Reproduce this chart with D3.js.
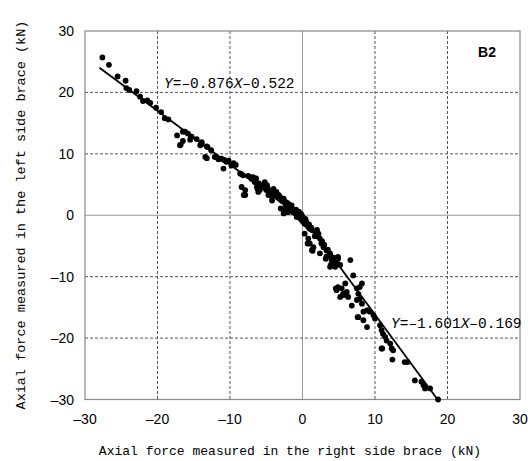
<!DOCTYPE html>
<html><head><meta charset="utf-8">
<script src="https://cdn.jsdelivr.net/npm/d3@7"></script>
<style>body{margin:0;background:#fff}</style>
</head><body>
<svg id="c" width="528" height="461"></svg>
<script>
const xTicks = [-30,-20,-10,0,10,20,30];
const yTicks = [-30,-20,-10,0,10,20,30];
const pointsX = [
-27.6,-26.7,-24.4,-24.3,-23.9,-22.9,-22.4,-22.0,-21.4,-20.2,-19.0,-18.5,-17.3,-16.8,-16.5,-16.2,-15.8,-15.4,-15.5,-14.1,-13.9,-13.1,-13.2,
-16.9,-16.5,-15.3,-13.9,-12.1,-11.9,-11.6,-10.8,-10.5,-10.9,-9.2,-8.6,-8.2,-8.4,-7.9,-7.9,-6.8,-6.6,-6.3,-6.1,-5.6,
-13.2,-13.4,-8.4,-8.1,-7.2,-6.4,-6.2,-5.9,-5.2,-4.9,-5.0,-4.7,-4.5,-4.2,-4.0,-3.6,-3.3,-3.1,-2.9,-2.6,-3.0,-2.4,-2.3,-2.0,-1.7,-1.5,-1.3,-1.0,-2.2,-2.6,
-2.6,-2.0,-1.5,-1.3,-0.8,-0.6,-0.3,-0.1,0.1,0.3,0.6,0.8,1.0,1.3,0.3,0.8,1.0,1.3,1.5,2.0,2.2,2.4,2.6,2.9,2.4,3.3,3.8,4.0,4.2,3.8,4.7,4.9,5.2,6.6,3.3,
3.8,4.5,4.0,4.9,7.0,4.7,4.9,5.4,5.9,5.6,6.1,5.2,6.3,7.5,7.7,7.9,8.2,7.9,7.5,8.2,6.8,8.4,8.9,9.3,8.4,7.7,9.8,10.0,8.9,10.7,
9.1,10.9,11.1,11.4,11.6,12.1,10.9,12.3,12.5,12.4,14.1,15.5,16.4,16.7,16.9,17.6,18.7,
0.7,1.4,3.2,3.9,4.6,5.7,7.6,11.0,14.5,-0.5,-1.8,0.0,0.5,1.7,-3.8,-4.4,-9.8,-11.2,-14.6,-19.5,-21.0,-25.5,
-7.5,-7.0,-6.0,-5.4,-4.8,-4.3,-3.8,-3.4,-2.8,-2.1,-1.6,-1.1,-0.7,-0.4,0.2,0.5,0.9,1.2,1.8,2.1,2.7,3.0,3.5,4.3,-9.5,-10.2,-12.6,-0.9,-0.2,0.4
];
const pointsY = [
25.7,24.5,21.9,20.7,20.4,20.2,19.3,18.6,18.7,17.5,15.8,15.6,13.0,11.5,12.1,13.6,13.3,12.8,12.3,11.4,11.9,11.1,9.3,
11.4,13.6,12.8,11.6,9.5,9.5,9.1,9.0,8.7,7.6,8.2,6.8,6.5,4.6,4.1,3.3,6.2,5.4,4.6,3.8,4.6,
11.2,9.5,6.7,3.3,6.2,6.0,4.3,4.1,5.4,4.9,4.1,3.3,3.8,2.4,4.3,3.8,3.3,3.0,2.4,2.7,1.1,2.2,1.6,1.9,1.4,0.9,0.5,0.3,0.7,0.8,
0.3,0.5,1.6,0.8,-0.3,0.0,-0.5,-0.8,-1.1,-1.4,-1.6,-1.9,-2.2,-2.4,-3.0,-3.8,-4.6,-5.7,-5.2,-2.4,-3.0,-3.8,-4.6,-5.2,-6.2,-5.7,-6.5,-7.3,-7.9,-8.4,-7.6,-7.1,-8.1,-7.3,-6.7,
-6.2,-8.4,-8.1,-6.8,-9.8,-12.2,-11.7,-11.9,-11.1,-12.8,-12.5,-13.3,-13.3,-11.9,-12.8,-11.7,-11.1,-13.6,-13.8,-14.4,-14.7,-15.7,-15.5,-15.7,-17.1,-16.6,-16.3,-16.8,-18.2,-17.9,
-15.5,-18.7,-19.3,-19.8,-20.4,-20.9,-21.7,-21.7,-22.0,-23.5,-23.9,-26.9,-27.1,-27.7,-28.2,-28.2,-30.0,
-4.6,-5.8,-7.1,-8.1,-11.9,-13.0,-16.6,-21.7,-23.9,0.6,1.7,-0.2,-1.0,-3.4,3.7,3.2,8.1,9.2,12.4,16.8,18.3,22.6,
6.4,5.9,5.2,4.8,4.4,3.9,3.4,3.1,2.6,2.0,1.2,0.8,0.4,0.1,-0.7,-1.2,-1.5,-2.0,-2.9,-3.4,-4.2,-4.8,-5.6,-6.9,8.5,8.9,10.6,0.9,0.2,-0.6
];
const fit1 = {a:-0.876, b:-0.522, x0:-28.0, x1:0.487};
const fit2 = {a:-1.601, b:-0.169, x0:0.487, x1:18.63};

const svg = d3.select("#c");
const L=85, R=520, T=31, B=399.5;
const x = d3.scaleLinear().domain([-30,30]).range([L,R]);
const y = d3.scaleLinear().domain([-30,30]).range([B,T]);

// grid
const g = svg.append("g");
g.selectAll("line.vx").data(xTicks.slice(1,-1)).enter().append("line")
  .attr("x1",d=>x(d)).attr("x2",d=>x(d)).attr("y1",T).attr("y2",B)
  .attr("stroke",d=>d===0?"#999":"#555").attr("stroke-width",1)
  .attr("stroke-dasharray",d=>d===0?null:"3,2");
g.selectAll("line.hy").data(yTicks.slice(1,-1)).enter().append("line")
  .attr("y1",d=>y(d)).attr("y2",d=>y(d)).attr("x1",L).attr("x2",R)
  .attr("stroke",d=>d===0?"#999":"#555").attr("stroke-width",1)
  .attr("stroke-dasharray",d=>d===0?null:"3,2");
svg.append("rect").attr("x",L).attr("y",T).attr("width",R-L).attr("height",B-T)
  .attr("fill","none").attr("stroke","#888").attr("stroke-width",1.2);

// axes labels
const fmt = d => d<0 ? "\u2013"+Math.abs(d) : String(d);
svg.append("g").selectAll("text").data(xTicks).enter().append("text")
  .attr("x",d=>x(d)).attr("y",B+24).attr("text-anchor","middle")
  .attr("font-family","Liberation Sans, Arial, sans-serif").attr("font-size",14).text(fmt);
svg.append("g").selectAll("text").data(yTicks).enter().append("text")
  .attr("x",L-11).attr("y",d=>y(d)+5).attr("text-anchor","end")
  .attr("font-family","Liberation Sans, Arial, sans-serif").attr("font-size",14).text(fmt);

// fit lines
const line = d3.line().x(d=>x(d[0])).y(d=>y(d[1]));
[fit1,fit2].forEach(f=>{
  svg.append("path").attr("d",line([[f.x0,f.a*f.x0+f.b],[f.x1,f.a*f.x1+f.b]]))
    .attr("stroke","#000").attr("stroke-width",1.8).attr("fill","none");
});

// points
svg.append("g").selectAll("circle").data(pointsX.map((v,i)=>[v,pointsY[i]])).enter()
  .append("circle").attr("cx",d=>x(d[0])).attr("cy",d=>y(d[1])).attr("r",2.9).attr("fill","#000");

// equations
function eq(px,py,a,b){
  const t = svg.append("text").attr("x",px).attr("y",py)
    .attr("font-family","Liberation Mono, monospace").attr("font-size",14.5);
  t.append("tspan").attr("font-style","italic").text("Y");
  t.append("tspan").text("=\u2013"+a);
  t.append("tspan").attr("font-style","italic").text("X");
  t.append("tspan").text("\u2013"+b);
}
eq(164,88,"0.876","0.522");
eq(391,328,"1.601","0.169");

svg.append("text").attr("x",487).attr("y",57).attr("text-anchor","middle")
  .attr("font-family","Liberation Sans, Arial, sans-serif").attr("font-weight","bold").attr("font-size",14).text("B2");

// titles
svg.append("text").attr("x",290).attr("y",455).attr("text-anchor","middle")
  .attr("font-family","Liberation Mono, monospace").attr("font-size",13)
  .text("Axial force measured in the right side brace (kN)");
svg.append("text").attr("transform","translate(25,215) rotate(-90)").attr("text-anchor","middle")
  .attr("font-family","Liberation Mono, monospace").attr("font-size",13.5)
  .text("Axial force measured in the left side brace (kN)");
</script>
</body></html>
